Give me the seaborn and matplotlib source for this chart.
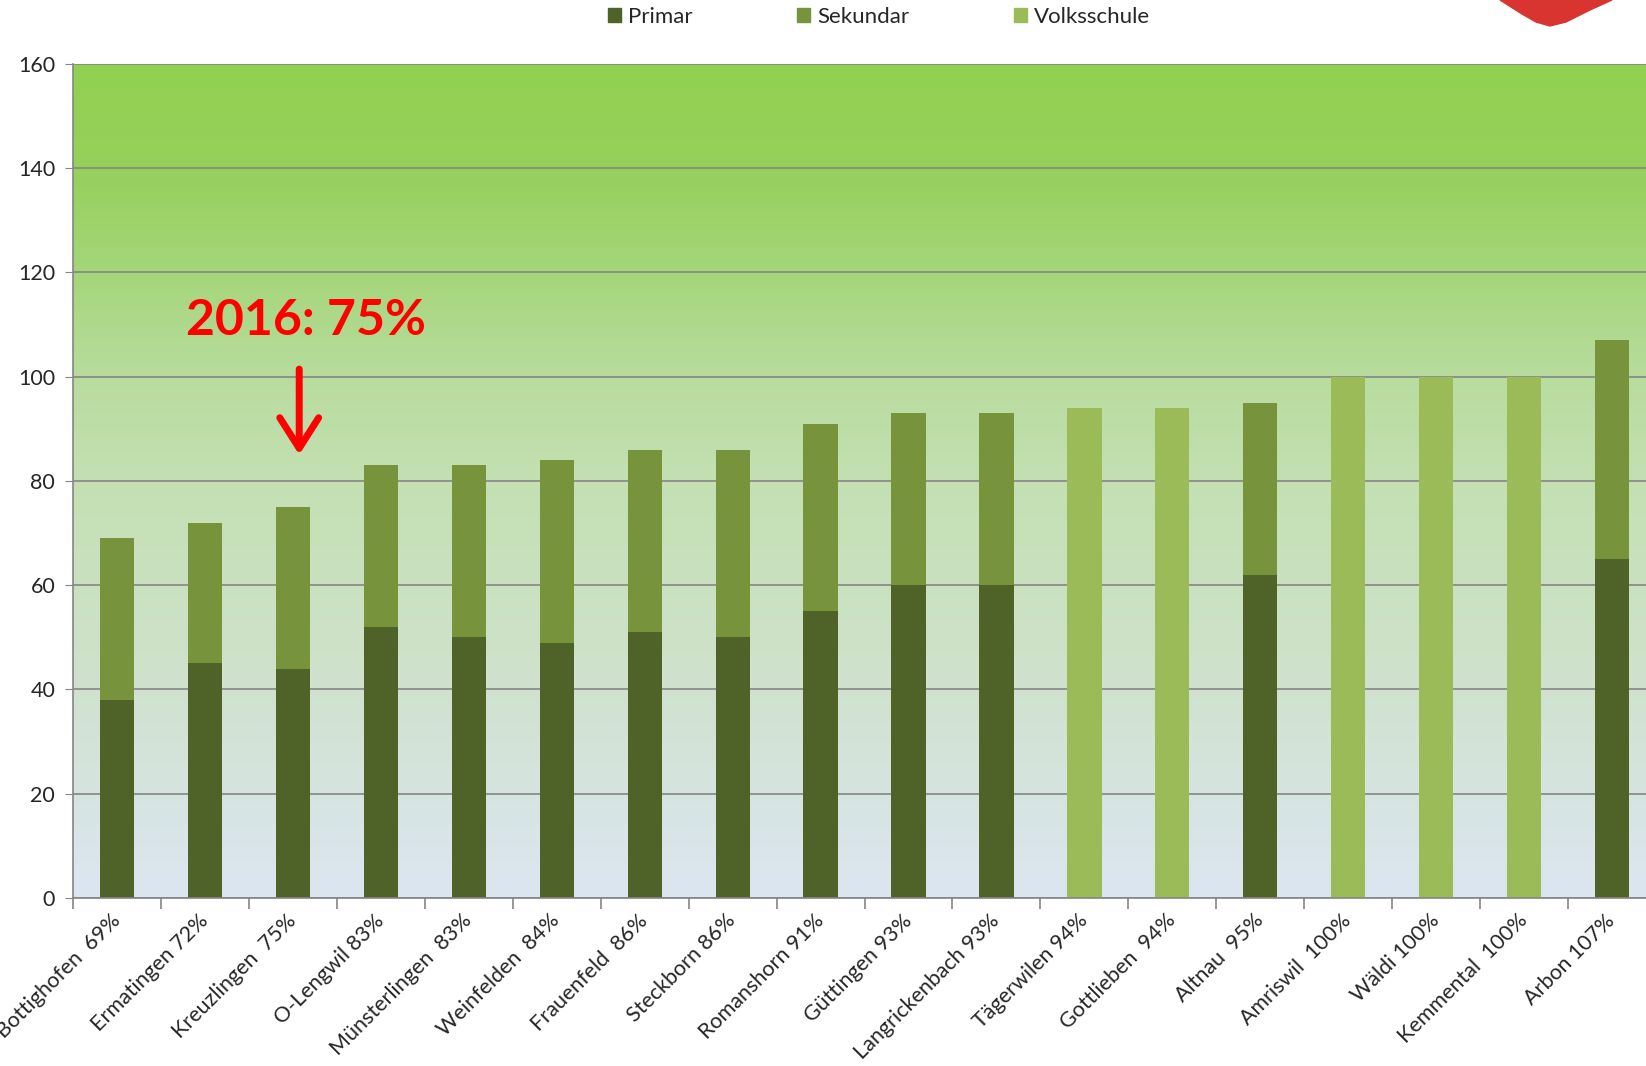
import numpy as np
import pandas as pd
import seaborn as sns
import matplotlib.pyplot as plt
from matplotlib.colors import LinearSegmentedColormap
from matplotlib.patches import Patch, Polygon

# Data
schools = ["Bottighofen  69%", "Ermatingen 72%", "Kreuzlingen  75%", "O-Lengwil 83%",
           "Münsterlingen  83%", "Weinfelden  84%", "Frauenfeld  86%", "Steckborn 86%",
           "Romanshorn 91%", "Güttingen 93%", "Langrickenbach 93%", "Tägerwilen 94%",
           "Gottlieben  94%", "Altnau  95%", "Amriswil  100%", "Wäldi 100%",
           "Kemmental  100%", "Arbon 107%"]
primar = [38, 45, 44, 52, 50, 49, 51, 50, 55, 60, 60, 0, 0, 62, 0, 0, 0, 65]
sekundar = [31, 27, 31, 31, 33, 35, 35, 36, 36, 33, 33, 0, 0, 33, 0, 0, 0, 42]
volksschule = [0, 0, 0, 0, 0, 0, 0, 0, 0, 0, 0, 94, 94, 0, 100, 100, 100, 0]

C_PRIMAR = "#4F6228"
C_SEKUNDAR = "#77933C"
C_VOLKS = "#9BBB59"


def main():
    df = pd.DataFrame({"school": schools, "primar": primar,
                       "sekundar": sekundar, "volks": volksschule})
    df["top"] = df["primar"] + df["sekundar"]

    sns.set_style("white")
    plt.rcParams["font.family"] = ["Lato", "DejaVu Sans"]

    fig = plt.figure(figsize=(16.46, 10.66), dpi=100)
    ax = fig.add_axes([0.0445, 0.1576, 0.9615, 0.7824])

    # gradient background
    cmap = LinearSegmentedColormap.from_list("bg", [
        (0.0, (220/255, 230/255, 242/255)),
        (0.25, (208/255, 226/255, 206/255)),
        (0.5, (196/255, 224/255, 178/255)),
        (0.625, (184/255, 220/255, 158/255)),
        (0.75, (165/255, 214/255, 122/255)),
        (0.875, (150/255, 208/255, 92/255)),
        (1.0, (146/255, 208/255, 80/255)),
    ])
    grad = np.linspace(0, 1, 256).reshape(-1, 1)
    ax.imshow(grad, cmap=cmap, origin="lower", aspect="auto",
              extent=[-0.5, 17.5, 0, 160], zorder=0)

    kw = dict(x="school", order=schools, width=0.39, ax=ax, zorder=2,
              linewidth=0, saturation=1)
    sns.barplot(data=df, y="top", color=C_SEKUNDAR, **kw)
    sns.barplot(data=df, y="volks", color=C_VOLKS, **kw)
    sns.barplot(data=df, y="primar", color=C_PRIMAR, **kw)

    ax.set_xlim(-0.5, 17.5)
    ax.set_ylim(0, 160)
    ax.set_yticks(range(0, 161, 20))
    ax.yaxis.grid(True, color="#858585", linewidth=1.2, zorder=1)
    ax.set_axisbelow(True)
    ax.set_xlabel("")
    ax.set_ylabel("")

    for s in ["top", "right"]:
        ax.spines[s].set_visible(False)
    for s in ["left", "bottom"]:
        ax.spines[s].set_color("#858585")
        ax.spines[s].set_linewidth(1.2)

    ax.tick_params(axis="y", which="major", left=True, length=6, color="#858585",
                   labelsize=15.5, pad=7)
    ax.tick_params(axis="x", which="major", length=0, pad=14)
    ax.set_xticks(np.arange(-0.5, 17.6, 1), minor=True)
    ax.tick_params(axis="x", which="minor", bottom=True, length=8,
                   color="#858585", width=1.2)
    ax.set_xticks(range(len(schools)))
    ax.set_xticklabels(schools, rotation=45, ha="right", va="center",
                       rotation_mode="anchor", fontsize=15.5)

    # annotation
    ax.text(2.15, 110.8, "2016: 75%", color="red", fontsize=36, fontweight="bold",
            ha="center", va="center", zorder=5)
    ax.annotate("", xy=(2.07, 84.5), xytext=(2.07, 102),
                arrowprops=dict(arrowstyle="->,head_length=0.55,head_width=0.35",
                                color="red", lw=5, mutation_scale=40), zorder=5)

    # legend
    handles = [Patch(color=C_PRIMAR, label="Primar"),
               Patch(color=C_SEKUNDAR, label="Sekundar"),
               Patch(color=C_VOLKS, label="Volksschule")]
    fig.legend(handles=handles, loc="center", bbox_to_anchor=(0.534, 0.984), ncol=3,
               frameon=False, fontsize=16, handlelength=0.6, handleheight=0.6,
               handletextpad=0.3, columnspacing=4.7)

    # red logo corner at top right
    W, H = 1646, 1066
    pts = [(1500, 0), (1522, 14), (1536, 22), (1550, 26), (1566, 22),
           (1590, 10), (1612, 0)]
    fig.patches.append(Polygon([(x / W, 1 - y / H) for x, y in pts], closed=True,
                               transform=fig.transFigure, color="#D93530", zorder=5))

    fig.savefig("out.png", dpi=100)
    plt.close(fig)


if __name__ == "__main__":
    main()
